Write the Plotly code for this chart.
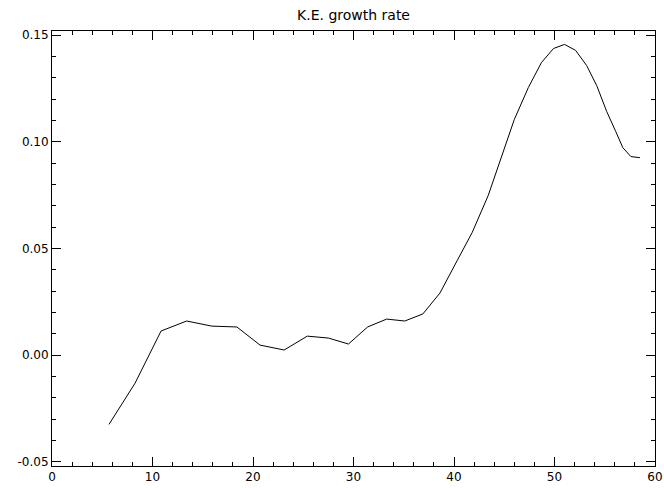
import plotly.graph_objects as go

x = [5.67, 8.26, 10.85, 13.4, 15.9, 18.4, 20.7, 23.1, 25.4, 27.5, 29.5, 31.4, 33.3, 35.1, 36.9, 38.6,
     40.3, 41.8, 43.4, 44.8, 46.0, 47.4, 48.7, 49.9, 51.0, 52.1, 53.2, 54.2, 55.2, 56.1, 56.8, 57.6, 58.5]
y = [-0.0325, -0.0132, 0.0113, 0.016, 0.0136, 0.0132, 0.0047, 0.0024, 0.0089, 0.008, 0.0052, 0.0132,
     0.0169, 0.016, 0.0193, 0.0291, 0.0442, 0.0574, 0.0748, 0.0945, 0.1105, 0.1255, 0.1372, 0.1438,
     0.1457, 0.1429, 0.1358, 0.1264, 0.1142, 0.1048, 0.0973, 0.0931, 0.0926]
xticks = [0, 10, 20, 30, 40, 50, 60]
yticks = [-0.05, 0.0, 0.05, 0.10, 0.15]
ylabels = ["-0.05", "0.00", "0.05", "0.10", "0.15"]

fig = go.Figure(go.Scatter(x=x, y=y, mode="lines", line=dict(color="black", width=1)))
ax = dict(showgrid=False, zeroline=False, showline=True, linecolor="black", linewidth=1,
          mirror="allticks", ticks="inside", ticklen=9, tickcolor="black", automargin=False,
          tickfont=dict(family="DejaVu Sans", size=12, color="black"))
fig.update_xaxes(range=[0, 60], tickvals=xticks, minor=dict(ticks="inside", ticklen=4, dtick=2, tickcolor="black"), **ax)
fig.update_yaxes(range=[-0.052, 0.152], tickvals=yticks, ticktext=ylabels,
                 minor=dict(ticks="inside", ticklen=4, dtick=0.01, tickcolor="black"), **ax)
fig.update_layout(width=664, height=488, margin=dict(l=52, r=9, t=31, b=22),
                  plot_bgcolor="white", paper_bgcolor="white", showlegend=False,
                  title=dict(text="K.E. growth rate", x=0.5, xref="paper", y=0.97, yanchor="middle",
                             font=dict(family="DejaVu Sans", size=14, color="black")))
fig.write_html("out.html", config={"displayModeBar": False},
               post_script="document.body.style.margin='0';document.body.style.overflow='hidden';")
